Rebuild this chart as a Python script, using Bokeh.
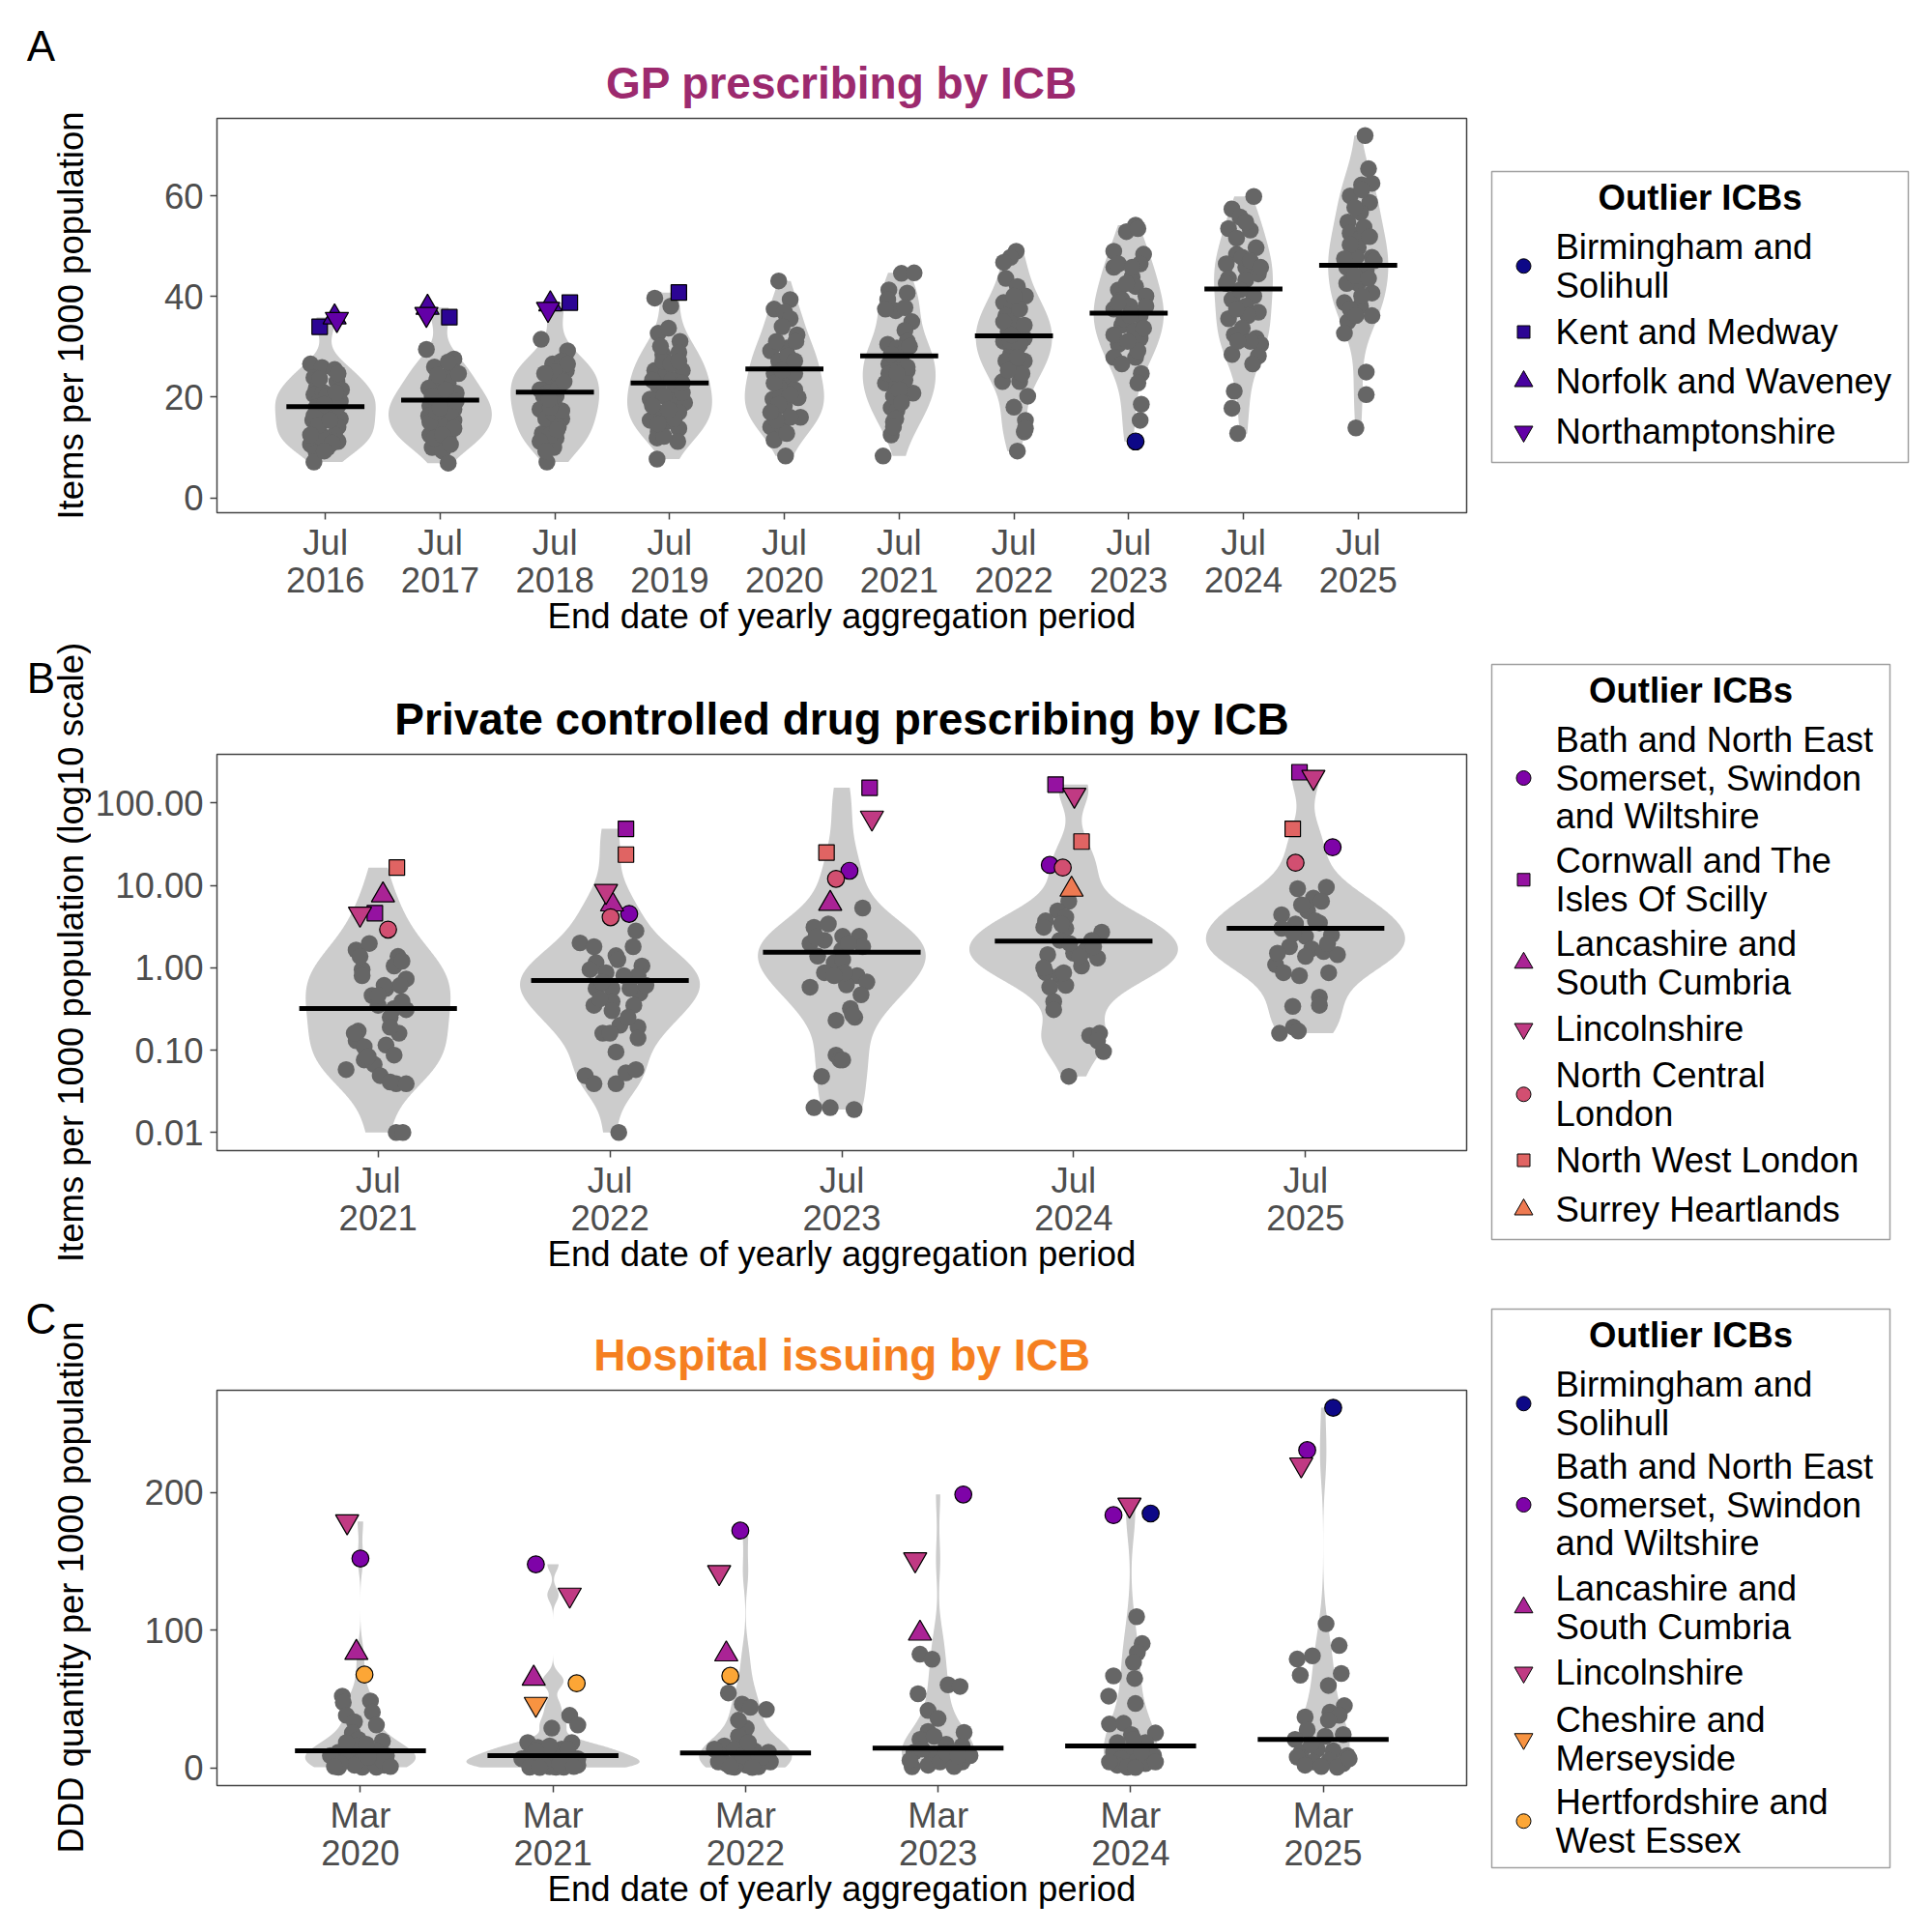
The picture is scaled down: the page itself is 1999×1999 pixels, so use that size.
import numpy as np
from bokeh.plotting import figure
from bokeh.models import Range1d, FixedTicker, PrintfTickFormatter, LinearAxis
from bokeh.layouts import row, column
from bokeh.embed import file_html
from bokeh.resources import INLINE
from bokeh.core.properties import value

# ---------------------------------------------------------------- data: panel A (GP prescribing)
gp_years = ["2016", "2017", "2018", "2019", "2020", "2021", "2022", "2023", "2024", "2025"]
gp_2016 = [26.6, 25.9, 25.5, 23.9, 23.1, 21.8, 21.5, 20.5, 21.0, 19.6, 19.2, 18.9, 18.0, 17.3, 15.7, 15.4, 15.1, 14.1, 13.5, 12.5, 12.2, 10.6, 10.0, 11.2, 9.0, 7.1, 11.9, 10.9, 16.3, 18.3, 14.4, 20.2, 20.9, 9.3, 12.5, 15.4, 23.7, 24.7, 18.6]
gp_2016_jit = [-0.13, -0.03, 0.08, -0.10, 0.10, -0.08, 0.14, -0.10, -0.02, 0.08, 0.13, -0.06, -0.08, 0.01, 0.13, -0.11, -0.03, 0.11, -0.08, 0.08, -0.02, -0.13, 0.02, 0.11, -0.08, -0.10, -0.03, 0.06, -0.10, 0.11, -0.06, 0.01, 0.09, -0.01, -0.13, 0.04, -0.05, 0.11, -0.01]
gp_2017 = [26.0, 27.6, 25.3, 23.4, 22.8, 21.8, 20.8, 20.5, 18.3, 18.6, 17.6, 16.3, 16.0, 15.4, 14.4, 13.5, 12.5, 11.9, 11.2, 10.0, 9.3, 6.9, 29.5, 24.7, 19.6, 17.0, 20.2, 14.7, 13.8, 24.4, 21.5, 11.9, 19.2, 15.1, 12.5, 27.0, 17.0, 10.6, 17.9]
gp_2017_jit = [-0.05, 0.12, 0.10, -0.03, 0.07, -0.10, 0.14, 0.00, -0.09, 0.05, 0.12, -0.10, 0.02, 0.12, -0.05, 0.03, -0.09, 0.07, -0.03, -0.07, 0.02, 0.07, -0.12, 0.16, -0.02, 0.09, -0.07, 0.00, 0.12, -0.02, 0.05, -0.05, 0.14, -0.09, 0.02, 0.07, -0.03, 0.09, 0.00]
gp_2018 = [31.5, 29.2, 27.2, 26.6, 25.3, 24.7, 24.0, 22.8, 21.5, 20.2, 19.2, 18.6, 17.6, 15.7, 14.4, 12.8, 11.9, 10.6, 10.0, 7.1, 26.0, 20.9, 21.8, 15.7, 16.7, 17.3, 20.2, 12.5, 14.1, 11.2, 26.6, 25.0, 18.0, 24.7, 23.1, 19.6, 13.5, 9.3]
gp_2018_jit = [-0.12, 0.11, 0.06, -0.02, 0.10, -0.08, 0.03, -0.04, -0.13, 0.01, -0.08, -0.01, -0.13, 0.06, -0.04, -0.11, 0.01, -0.09, -0.01, -0.07, 0.05, -0.06, 0.03, -0.08, -0.01, 0.06, -0.10, -0.04, 0.03, -0.13, 0.11, 0.00, -0.04, -0.09, 0.08, -0.05, 0.02, -0.08]
gp_2019 = [39.7, 38.1, 32.7, 33.7, 31.1, 28.5, 28.9, 25.3, 24.7, 25.3, 22.1, 21.5, 19.6, 19.2, 18.9, 17.0, 17.0, 15.4, 15.1, 13.1, 13.8, 11.9, 11.2, 7.7, 27.2, 23.4, 20.2, 20.9, 18.3, 15.7, 12.2, 26.6, 30.1, 17.6, 27.2, 23.4, 22.8, 14.7]
gp_2019_jit = [-0.13, 0.01, -0.10, -0.01, 0.09, -0.06, 0.08, -0.13, -0.03, 0.11, -0.10, 0.04, -0.17, 0.01, 0.13, -0.11, 0.08, -0.17, -0.03, -0.10, 0.08, -0.11, 0.07, -0.11, -0.06, 0.02, -0.05, 0.11, -0.15, 0.04, -0.05, 0.01, -0.08, -0.01, 0.08, -0.15, 0.11, -0.10]
gp_2020 = [43.1, 39.4, 37.5, 36.9, 35.6, 32.4, 29.2, 29.8, 31.1, 27.2, 26.3, 24.7, 23.4, 22.1, 21.5, 19.6, 19.9, 18.3, 17.3, 16.0, 14.1, 14.1, 11.5, 8.3, 28.2, 34.0, 31.1, 24.7, 20.2, 16.0, 15.4, 12.8, 20.5, 22.8, 25.3, 27.2, 18.6, 17.0]
gp_2020_jit = [-0.05, 0.05, -0.09, 0.00, 0.05, 0.11, -0.12, 0.02, 0.10, -0.05, 0.07, -0.09, 0.03, -0.05, 0.09, -0.10, 0.12, 0.00, -0.09, 0.14, -0.12, -0.02, -0.09, 0.01, 0.03, -0.02, -0.07, 0.09, -0.03, 0.05, -0.07, 0.02, 0.05, -0.09, -0.02, 0.09, -0.05, -0.12]
gp_2021 = [44.6, 44.7, 41.3, 40.7, 39.4, 37.2, 37.8, 35.0, 33.3, 30.5, 31.1, 29.8, 27.2, 26.6, 25.3, 22.8, 22.4, 20.8, 17.9, 17.3, 15.1, 12.5, 8.3, 23.4, 20.2, 19.6, 24.7, 15.7, 29.2, 30.1, 14.1, 21.5, 37.5, 26.0, 28.5, 18.9, 24.7]
gp_2021_jit = [0.02, 0.13, -0.09, 0.07, -0.10, -0.03, 0.05, 0.11, 0.05, -0.10, 0.07, -0.02, 0.02, -0.09, 0.07, -0.12, -0.02, 0.12, -0.07, -0.02, -0.05, -0.07, -0.14, 0.05, -0.05, 0.02, -0.09, -0.03, 0.05, 0.09, -0.05, 0.00, -0.12, 0.07, -0.07, 0.02, -0.02]
gp_2022 = [49.0, 47.8, 46.8, 43.6, 42.0, 40.1, 38.8, 37.5, 36.2, 34.3, 33.0, 31.7, 31.1, 29.8, 28.5, 27.2, 26.0, 23.1, 23.1, 20.2, 18.0, 15.4, 13.1, 9.3, 35.0, 37.5, 27.2, 24.7, 31.1, 35.0, 40.1, 25.3, 30.5, 32.4, 34.3, 27.9, 13.8]
gp_2022_jit = [0.02, -0.03, -0.09, -0.07, 0.03, 0.10, -0.09, -0.02, -0.07, 0.03, -0.05, 0.09, -0.09, 0.03, -0.03, 0.09, 0.02, -0.10, 0.05, 0.12, 0.00, 0.10, 0.09, 0.03, -0.02, 0.05, -0.07, 0.07, -0.03, -0.09, 0.00, -0.05, 0.05, -0.02, 0.09, 0.03, 0.10]
gp_2023 = [54.2, 52.9, 53.5, 49.0, 48.4, 45.8, 46.5, 43.9, 41.3, 42.0, 39.4, 40.1, 37.5, 36.2, 34.3, 33.3, 30.5, 31.7, 27.9, 27.9, 24.7, 22.8, 18.6, 15.4, 42.6, 38.1, 35.6, 32.4, 29.2, 26.6, 38.1, 46.5, 36.2, 33.7, 31.1, 38.8, 45.8]
gp_2023_jit = [0.06, -0.02, 0.08, -0.13, 0.13, -0.13, 0.10, 0.03, -0.09, 0.06, -0.06, 0.15, -0.13, 0.10, -0.06, 0.05, -0.09, 0.10, -0.13, 0.06, 0.11, 0.08, 0.11, 0.10, -0.02, 0.01, -0.04, -0.13, 0.08, -0.06, 0.15, -0.09, 0.01, 0.13, -0.01, -0.09, 0.03]
gp_2024 = [59.9, 57.4, 55.8, 53.5, 53.2, 49.7, 48.4, 46.5, 45.8, 44.5, 43.6, 43.3, 39.4, 40.1, 38.1, 35.6, 36.9, 32.4, 31.7, 30.5, 28.5, 28.2, 26.6, 21.2, 17.8, 12.8, 47.8, 47.1, 41.3, 36.2, 37.5, 42.6, 33.7, 31.1, 31.1, 45.8, 51.6, 54.8]
gp_2024_jit = [0.09, -0.10, -0.03, -0.13, 0.06, 0.11, -0.06, -0.15, 0.02, 0.13, -0.13, 0.02, -0.10, 0.09, 0.02, -0.13, 0.13, -0.08, 0.11, 0.15, -0.10, 0.13, 0.08, -0.08, -0.10, -0.05, -0.01, 0.06, -0.03, 0.04, -0.06, -0.15, -0.01, 0.06, -0.05, 0.15, -0.06, 0.02]
gp_2025 = [72.0, 65.4, 62.2, 62.5, 60.0, 58.7, 56.7, 54.8, 52.6, 51.6, 49.7, 47.8, 45.8, 45.2, 42.6, 42.6, 40.7, 38.8, 38.1, 36.2, 35.0, 32.7, 25.0, 20.5, 13.9, 61.2, 57.7, 53.8, 47.8, 47.1, 44.2, 40.1, 37.5, 36.2, 43.6, 50.3, 51.9, 47.5]
gp_2025_jit = [0.06, 0.09, 0.03, 0.12, -0.07, 0.10, 0.02, -0.09, -0.07, 0.02, 0.00, 0.12, -0.10, 0.07, 0.00, -0.10, 0.12, -0.12, 0.02, 0.12, -0.09, -0.12, 0.07, 0.07, -0.02, 0.03, -0.03, 0.05, -0.02, 0.14, -0.03, 0.03, -0.07, -0.02, 0.09, -0.07, 0.10, -0.12]
gp_median = [18.1, 19.4, 21.0, 22.8, 25.6, 28.2, 32.2, 36.7, 41.5, 46.2]
gp_out_icb = ["Kent and Medway", "Kent and Medway", "Kent and Medway", "Kent and Medway",
              "Norfolk and Waveney", "Norfolk and Waveney", "Norfolk and Waveney",
              "Northamptonshire", "Northamptonshire", "Northamptonshire",
              "Birmingham and Solihull"]
gp_out_year = ["2016", "2017", "2018", "2019", "2016", "2017", "2018", "2016", "2017", "2018", "2023"]
gp_out_value = [34.0, 35.9, 38.8, 40.8, 35.9, 37.8, 38.5, 35.5, 36.5, 37.5, 11.2]
gp_out_jit = [-0.05, 0.08, 0.13, 0.08, 0.08, -0.11, -0.04, 0.10, -0.12, -0.06, 0.06]

# ---------------------------------------------------------------- data: panel B (private CD prescribing)
pcd_years = ["2021", "2022", "2023", "2024", "2025"]
pcd_2021 = [1.64, 1.97, 0.95, 1.37, 1.05, 0.73, 0.46, 0.56, 0.61, 0.35, 0.32, 0.31, 0.25, 0.17, 0.16, 0.13, 0.11, 0.115, 0.087, 0.076, 0.067, 0.058, 0.049, 0.039, 0.039, 0.01, 0.01, 1.37, 1.2, 0.61, 0.8, 0.16, 0.19, 0.084, 0.041, 0.46, 0.39]
pcd_2021_jit = [-0.095, -0.038, -0.069, 0.086, 0.069, 0.121, -0.026, 0.034, 0.095, 0.0, 0.069, 0.121, 0.052, -0.086, 0.09, -0.095, -0.06, 0.034, 0.069, -0.06, -0.017, -0.138, 0.009, 0.078, 0.121, 0.078, 0.107, -0.078, 0.103, 0.026, -0.069, -0.103, 0.052, -0.043, 0.052, 0.0, 0.103]
pcd_2022 = [2.8, 2.0, 1.8, 1.4, 1.8, 1.15, 1.05, 0.95, 0.87, 0.8, 0.56, 0.56, 0.49, 0.39, 0.35, 0.35, 0.30, 0.20, 0.19, 0.16, 0.14, 0.095, 0.049, 0.039, 0.039, 0.053, 0.058, 0.01, 1.25, 0.8, 0.67, 0.56, 0.42, 0.61, 0.16, 0.25]
pcd_2022_jit = [0.112, -0.129, -0.069, 0.026, 0.1, -0.06, 0.138, -0.086, -0.017, 0.121, 0.009, -0.06, 0.129, 0.009, -0.069, 0.103, 0.009, 0.043, 0.121, -0.031, 0.121, 0.026, -0.107, -0.069, 0.026, 0.069, 0.112, 0.038, 0.034, 0.06, -0.034, 0.086, -0.043, 0.155, 0.0, 0.078]
pcd_2023 = [3.1, 3.4, 1.97, 2.15, 1.38, 1.15, 0.87, 0.58, 0.23, 0.087, 0.076, 0.048, 0.02, 0.02, 1.64, 5.3, 2.4, 2.4, 1.8, 1.25, 0.8, 0.67, 0.62, 0.32, 0.25, 0.076, 0.019, 0.87, 0.27, 2.36, 1.97, 0.8, 0.47]
pcd_2023_jit = [-0.12, -0.058, -0.137, -0.075, -0.104, -0.033, -0.075, -0.137, -0.025, -0.025, -0.008, -0.087, -0.12, -0.05, 0.0, 0.09, 0.004, 0.075, 0.09, 0.004, 0.066, 0.108, 0.02, 0.037, 0.056, 0.004, 0.053, 0.012, 0.046, -0.112, 0.029, -0.033, 0.083]
pcd_2024 = [6.4, 4.9, 3.7, 4.1, 3.1, 3.0, 2.7, 2.15, 1.64, 1.5, 1.31, 1.44, 1.05, 0.87, 0.80, 0.61, 0.58, 0.39, 0.31, 0.15, 0.16, 0.096, 0.048, 2.15, 1.97, 1.37, 1.8, 1.0, 0.87, 0.13, 3.4]
pcd_2024_jit = [-0.021, -0.069, -0.121, -0.034, -0.129, -0.034, 0.121, 0.078, 0.052, 0.0, 0.103, -0.112, 0.034, -0.121, -0.06, -0.034, -0.103, -0.086, -0.086, 0.069, 0.112, 0.129, -0.021, -0.06, -0.017, 0.026, 0.086, -0.129, -0.043, 0.103, -0.052]
pcd_2025 = [9.1, 9.5, 7.0, 6.4, 4.4, 4.9, 3.4, 3.5, 2.5, 3.0, 2.4, 1.8, 1.7, 1.57, 1.44, 1.09, 0.87, 0.8, 0.87, 0.44, 0.35, 0.34, 0.16, 0.19, 0.17, 5.8, 3.7, 2.6, 1.97, 1.37, 1.5]
pcd_2025_jit = [-0.034, 0.09, 0.034, 0.069, -0.103, 0.009, -0.043, 0.06, 0.112, -0.103, 0.0, -0.069, 0.026, 0.078, 0.138, -0.129, -0.095, -0.026, 0.1, 0.06, 0.06, -0.055, -0.112, -0.052, -0.031, -0.017, 0.043, -0.052, 0.095, 0.0, -0.121]
pcd_median = [0.32, 0.70, 1.54, 2.1, 3.0]
pcd_out_icb = ["Bath and North East Somerset, Swindon and Wiltshire"] * 4 + \
              ["Cornwall and The Isles Of Scilly"] * 5 + \
              ["Lancashire and South Cumbria"] * 3 + \
              ["Lincolnshire"] * 5 + \
              ["North Central London"] * 5 + \
              ["North West London"] * 5 + \
              ["Surrey Heartlands"]
pcd_out_year = ["2022", "2023", "2024", "2025",
                "2021", "2022", "2023", "2024", "2025",
                "2021", "2022", "2023",
                "2021", "2022", "2023", "2024", "2025",
                "2021", "2022", "2023", "2024", "2025",
                "2021", "2022", "2023", "2024", "2025",
                "2024"]
pcd_out_value = [4.5, 15, 17.7, 29, 4.6, 48.5, 153, 167, 236, 7.6, 5.9, 6.0, 4.5, 8.5, 66, 125, 206,
                 2.9, 4.1, 12, 16.4, 18.8, 16.4, 23.6, 25, 34, 48.5, 8.9]
pcd_out_jit = [0.083, 0.033, -0.103, 0.117, -0.014, 0.069, 0.12, -0.078, -0.026, 0.021, 0.009, -0.05,
               -0.078, -0.017, 0.13, 0.003, 0.034, 0.043, 0.003, -0.025, -0.047, -0.043,
               0.081, 0.069, -0.066, 0.034, -0.055, -0.009]

# ---------------------------------------------------------------- data: panel C (hospital issuing)
hosp_years = ["2020", "2021", "2022", "2023", "2024", "2025"]
hosp_2020 = [52.2, 47.5, 48.7, 40.5, 38.2, 33.5, 31.2, 25.4, 20.7, 19.5, 11.4, 12.5, 11.4, 12.5, 9.0, 6.7, 5.5, 4.4, 3.2, 2.0, 0.5, 0.5, 0.5, 2.0, 5.5, 9.0, 7.9, 16.0, 3.2, 1.0, 17.2, 18.4, 1.0]
hosp_2020_jit = [-0.094, -0.089, 0.052, 0.062, -0.073, -0.031, 0.083, -0.042, -0.01, 0.114, -0.114, -0.052, 0.021, 0.083, 0.135, -0.135, -0.073, 0.0, 0.073, 0.125, -0.114, 0.01, 0.083, -0.031, 0.114, -0.156, 0.042, -0.021, -0.104, 0.156, 0.031, -0.073, -0.135]
hosp_2021 = [38.2, 31.2, 28.9, 18.4, 14.9, 13.7, 18.4, 11.4, 9.0, 7.9, 6.7, 3.2, 0.9, 4.4, 5.5, 6.7, 2.0, 0.5, 0.5, 2.0, 0.5, 9.0, 16.0, 12.5, 13.7, 0.3, 3.2, 1.0]
hosp_2021_jit = [0.087, 0.129, -0.006, -0.131, -0.079, 0.046, 0.098, -0.037, -0.121, 0.025, 0.129, -0.1, -0.017, 0.067, -0.058, -0.162, 0.129, 0.015, -0.121, -0.048, 0.056, 0.087, -0.017, -0.089, 0.077, -0.069, 0.035, 0.108]
hosp_2022 = [54.5, 46.4, 44.0, 42.4, 28.9, 23.0, 16.0, 13.7, 12.5, 11.4, 9.0, 6.7, 5.5, 3.2, 2.0, 0.5, 0.9, 4.4, 4.4, 9.0, 18.4, 1.0, 7.9, 13.7, 0.3, 34.7]
hosp_2022_jit = [-0.089, -0.017, 0.025, 0.108, 0.004, -0.037, -0.11, -0.058, 0.046, 0.119, -0.131, -0.037, 0.056, -0.1, 0.004, -0.058, 0.067, 0.129, -0.141, -0.017, 0.015, -0.079, 0.087, -0.162, 0.035, -0.037]
hosp_2023 = [82.6, 79.0, 60.4, 59.2, 53.9, 41.7, 35.9, 25.8, 26.5, 20.7, 17.2, 16.0, 11.4, 9.0, 6.7, 0.9, 2.0, 4.4, 4.4, 9.0, 5.5, 1.0, 23.0, 11.4, 13.7, 9.0]
hosp_2023_jit = [-0.094, -0.031, 0.052, 0.114, -0.104, -0.052, 0.0, 0.135, -0.052, -0.094, 0.042, 0.125, -0.125, -0.031, 0.062, -0.135, -0.052, 0.01, 0.125, 0.166, -0.146, 0.083, -0.021, 0.042, -0.083, 0.104]
hosp_2024 = [109.9, 90.3, 83.7, 76.7, 66.9, 65.0, 52.2, 46.8, 31.9, 32.4, 24.2, 25.4, 18.4, 18.4, 11.4, 12.5, 9.0, 6.7, 5.5, 2.0, 0.5, 3.2, 4.4, 4.4, 0.3, 11.4, 20.7]
hosp_2024_jit = [0.031, 0.06, 0.035, 0.015, -0.089, 0.021, -0.114, 0.025, -0.11, -0.037, 0.004, 0.129, -0.069, 0.077, -0.089, -0.006, 0.119, -0.048, 0.035, -0.069, -0.017, 0.077, 0.129, -0.11, 0.025, 0.056, 0.015]
hosp_2025 = [104.7, 88.9, 81.4, 79.1, 67.4, 68.6, 59.9, 45.2, 40.5, 37.0, 38.2, 34.7, 27.7, 24.2, 20.7, 23.0, 11.4, 13.7, 12.5, 9.0, 7.9, 4.4, 5.5, 3.2, 2.0, 0.5, 1.0, 6.7, 17.2]
hosp_2025_jit = [0.015, 0.083, -0.056, -0.135, -0.119, 0.094, 0.027, 0.11, 0.035, -0.094, 0.083, 0.027, -0.083, 0.104, -0.146, 0.01, -0.114, -0.031, 0.052, 0.125, -0.135, -0.052, 0.031, 0.104, -0.094, 0.073, -0.01, 0.135, -0.062]
hosp_median = [12.5, 9.0, 10.9, 14.4, 16.0, 20.7]
hosp_out_icb = ["Birmingham and Solihull"] * 2 + \
               ["Bath and North East Somerset, Swindon and Wiltshire"] * 6 + \
               ["Lancashire and South Cumbria"] * 4 + \
               ["Lincolnshire"] * 6 + \
               ["Cheshire and Merseyside"] + \
               ["Hertfordshire and West Essex"] * 3
hosp_out_year = ["2024", "2025",
                 "2020", "2021", "2022", "2023", "2024", "2025",
                 "2020", "2021", "2022", "2023",
                 "2020", "2021", "2022", "2023", "2024", "2025",
                 "2021",
                 "2020", "2021", "2022"]
hosp_out_value = [184.8, 261.6, 152.1, 147.9, 172.4, 198.6, 183.6, 230.8, 83.7, 65.0, 82.6, 97.7,
                  179.0, 125.7, 142.1, 151.4, 191.1, 220.3, 46.4, 67.8, 61.5, 66.9]
hosp_out_jit = [0.104, 0.052, 0.0, -0.089, -0.027, 0.131, -0.089, -0.083, -0.021, -0.1, -0.1, -0.094,
                -0.069, 0.087, -0.137, -0.119, -0.006, -0.114, -0.089, 0.021, 0.123, -0.079]

# ---------------------------------------------------------------- styles / layout constants
FONT = "Liberation Sans"
TXT = "36.5px"
ICB_COLOURS = {
    "Birmingham and Solihull": "#0D0887",
    "Kent and Medway": "#2C0594",
    "Norfolk and Waveney": "#4903A0",
    "Northamptonshire": "#6300A7",
    "Bath and North East Somerset, Swindon and Wiltshire": "#7E03A8",
    "Cornwall and The Isles Of Scilly": "#9512A1",
    "Lancashire and South Cumbria": "#AA2395",
    "Lincolnshire": "#C03A83",
    "North Central London": "#D24F71",
    "North West London": "#E06463",
    "Surrey Heartlands": "#EE7A52",
    "Cheshire and Merseyside": "#F89341",
    "Hertfordshire and West Essex": "#FCA636",
}
MARKER_SIZE = {"circle": 17.5, "square": 16, "triangle": 24, "inverted_triangle": 24}
LEG_MARKER_SIZE = {"circle": 15, "square": 13, "triangle": 19, "inverted_triangle": 19}
LEFT_W, MAIN_W, LEG_W, TOTAL_H = 94, 1436, 469, 1999


def kde(v, grid):
    v = np.asarray(v, float)
    n = len(v)
    sd = np.std(v, ddof=1)
    q75, q25 = np.percentile(v, [75, 25])
    lo = min(sd, (q75 - q25) / 1.34) if q75 > q25 else sd
    bw = 0.9 * lo * n ** -0.2
    z = (grid[:, None] - v[None, :]) / bw
    return np.exp(-0.5 * z * z).sum(axis=1) / (n * bw * np.sqrt(2 * np.pi))


def style_axis(ax):
    ax.axis_line_color = None
    ax.major_tick_line_color = "#444444"
    ax.major_tick_line_width = 1.5
    ax.major_tick_out = 7
    ax.major_tick_in = 0
    ax.minor_tick_line_color = None
    ax.major_label_text_font = FONT
    ax.major_label_text_font_size = TXT
    ax.major_label_text_color = "#4D4D4D"
    ax.axis_label_text_font = FONT
    ax.axis_label_text_font_size = TXT
    ax.axis_label_text_font_style = "normal"
    ax.axis_label_text_color = "black"


def build_panel(cfg):
    years = cfg["years"]
    n = len(years)
    log = cfg["log"]
    p = figure(width=MAIN_W, height=cfg["height"],
               x_range=Range1d(*cfg["xr"]), y_range=Range1d(*cfg["yr"]),
               y_axis_type="log" if log else "linear",
               output_backend="svg", toolbar_location=None,
               min_border_left=224 - LEFT_W, min_border_right=13,
               min_border_top=cfg["top"], min_border_bottom=cfg["bottom"])
    p.title.text = cfg["title"]
    p.title.align = "center"
    p.title.text_font = FONT
    p.title.text_font_size = "46px"
    p.title.text_font_style = "bold"
    p.title.text_color = cfg["title_color"]
    p.title.standoff = 22

    allvals = [list(g) for g in cfg["groups"]]
    for yr, v in zip(cfg["out_year"], cfg["out_value"]):
        allvals[years.index(yr)].append(v)
    dens = []
    for g in allvals:
        v = np.log10(g) if log else np.asarray(g, float)
        grid = np.linspace(v.min(), v.max(), 512)
        dens.append((grid, kde(v, grid)))
    dmax = max(d.max() for _, d in dens)
    xs, ys = [], []
    for i, (grid, d) in enumerate(dens):
        hw = d / dmax * 0.45
        yy = 10 ** grid if log else grid
        xs.append(np.concatenate([i - hw, (i + hw)[::-1]]))
        ys.append(np.concatenate([yy, yy[::-1]]))
    p.patches(xs, ys, fill_color="#CCCCCC", line_color=None)

    px, py = [], []
    for i, (g, j) in enumerate(zip(cfg["groups"], cfg["jits"])):
        for v, o in zip(g, j):
            px.append(i + o)
            py.append(v)
    p.scatter(px, py, size=17.5, fill_color="#666666", line_color=None)

    p.segment(x0=[i - 0.34 for i in range(n)], x1=[i + 0.34 for i in range(n)],
              y0=cfg["median"], y1=cfg["median"], line_color="black", line_width=5)

    for name, mk, _lines in cfg["legend"]:
        ox = [years.index(yr) + o for icb, yr, o in zip(cfg["out_icb"], cfg["out_year"], cfg["out_jit"]) if icb == name]
        oy = [v for icb, v in zip(cfg["out_icb"], cfg["out_value"]) if icb == name]
        if ox:
            p.scatter(ox, oy, marker=mk, size=MARKER_SIZE[mk], fill_color=ICB_COLOURS[name],
                      line_color="black", line_width=1.2)

    p.grid.visible = False
    p.outline_line_color = "#444444"
    p.outline_line_width = 1.5

    ticker = FixedTicker(ticks=list(range(n)))
    p.xaxis.ticker = ticker
    p.xaxis.major_label_overrides = {i: cfg["month"] for i in range(n)}
    p.xaxis.major_label_standoff = 3
    style_axis(p.xaxis[0])
    ax2 = LinearAxis(ticker=ticker, major_label_overrides={i: y for i, y in enumerate(years)},
                     axis_label="End date of yearly aggregation period")
    style_axis(ax2)
    ax2.major_tick_line_color = None
    ax2.major_tick_out = 0
    ax2.major_label_standoff = 2
    ax2.axis_label_standoff = 1
    p.add_layout(ax2, "below")

    p.yaxis.ticker = FixedTicker(ticks=cfg["yticks"])
    if log:
        p.yaxis.formatter = PrintfTickFormatter(format="%.2f")
    style_axis(p.yaxis[0])
    p.yaxis.major_label_standoff = 7
    return p


cfg_a = dict(
    years=gp_years, month="Jul", log=False,
    groups=[gp_2016, gp_2017, gp_2018, gp_2019, gp_2020, gp_2021, gp_2022, gp_2023, gp_2024, gp_2025],
    jits=[gp_2016_jit, gp_2017_jit, gp_2018_jit, gp_2019_jit, gp_2020_jit, gp_2021_jit, gp_2022_jit,
          gp_2023_jit, gp_2024_jit, gp_2025_jit],
    median=gp_median, out_icb=gp_out_icb, out_year=gp_out_year, out_value=gp_out_value, out_jit=gp_out_jit,
    legend=[("Birmingham and Solihull", "circle", ["Birmingham and", "Solihull"]),
            ("Kent and Medway", "square", ["Kent and Medway"]),
            ("Norfolk and Waveney", "triangle", ["Norfolk and Waveney"]),
            ("Northamptonshire", "inverted_triangle", ["Northamptonshire"])],
    title="GP prescribing by ICB", title_color="#9C2A6E",
    ylabel="Items per 1000 population", yticks=[0, 20, 40, 60],
    xr=(-0.945, 9.945), yr=(-2.96, 75.4), height=666, top=122, bottom=136,
    letter="A", letter_y=47, ylabel_y=326,
    leg_box=(177, 478), leg_title_y=204, leg_y=[255, 343, 394, 446], leg_right=444,
)
cfg_b = dict(
    years=pcd_years, month="Jul", log=True,
    groups=[pcd_2021, pcd_2022, pcd_2023, pcd_2024, pcd_2025],
    jits=[pcd_2021_jit, pcd_2022_jit, pcd_2023_jit, pcd_2024_jit, pcd_2025_jit],
    median=pcd_median, out_icb=pcd_out_icb, out_year=pcd_out_year, out_value=pcd_out_value, out_jit=pcd_out_jit,
    legend=[("Bath and North East Somerset, Swindon and Wiltshire", "circle",
             ["Bath and North East", "Somerset, Swindon", "and Wiltshire"]),
            ("Cornwall and The Isles Of Scilly", "square", ["Cornwall and The", "Isles Of Scilly"]),
            ("Lancashire and South Cumbria", "triangle", ["Lancashire and", "South Cumbria"]),
            ("Lincolnshire", "inverted_triangle", ["Lincolnshire"]),
            ("North Central London", "circle", ["North Central", "London"]),
            ("North West London", "square", ["North West London"]),
            ("Surrey Heartlands", "triangle", ["Surrey Heartlands"])],
    title="Private controlled drug prescribing by ICB", title_color="black",
    ylabel="Items per 1000 population (log10 scale)", yticks=[0.01, 0.1, 1, 10, 100],
    xr=(-0.695, 4.695), yr=(10 ** -2.22, 10 ** 2.59), height=660, top=114, bottom=136,
    letter="B", letter_y=701, ylabel_y=985,
    leg_box=(687, 1282), leg_title_y=714, leg_y=[765, 890, 976, 1064, 1112, 1200, 1251], leg_right=425,
)
cfg_c = dict(
    years=hosp_years, month="Mar", log=False,
    groups=[hosp_2020, hosp_2021, hosp_2022, hosp_2023, hosp_2024, hosp_2025],
    jits=[hosp_2020_jit, hosp_2021_jit, hosp_2022_jit, hosp_2023_jit, hosp_2024_jit, hosp_2025_jit],
    median=hosp_median, out_icb=hosp_out_icb, out_year=hosp_out_year, out_value=hosp_out_value, out_jit=hosp_out_jit,
    legend=[("Birmingham and Solihull", "circle", ["Birmingham and", "Solihull"]),
            ("Bath and North East Somerset, Swindon and Wiltshire", "circle",
             ["Bath and North East", "Somerset, Swindon", "and Wiltshire"]),
            ("Lancashire and South Cumbria", "triangle", ["Lancashire and", "South Cumbria"]),
            ("Lincolnshire", "inverted_triangle", ["Lincolnshire"]),
            ("Cheshire and Merseyside", "inverted_triangle", ["Cheshire and", "Merseyside"]),
            ("Hertfordshire and West Essex", "circle", ["Hertfordshire and", "West Essex"])],
    title="Hospital issuing by ICB", title_color="#F57F20",
    ylabel="DDD quantity per 1000 population", yticks=[0, 100, 200],
    xr=(-0.745, 5.745), yr=(-12.8, 274.3), height=673, top=112, bottom=152,
    letter="C", letter_y=1364, ylabel_y=1642,
    leg_box=(1354, 1932), leg_title_y=1381, leg_y=[1432, 1517, 1643, 1730, 1779, 1864], leg_right=425,
)
cfgs = (cfg_a, cfg_b, cfg_c)

# ---------------------------------------------------------------- left strip: panel letters and y-axis titles
left = figure(width=LEFT_W, height=TOTAL_H, x_range=Range1d(0, LEFT_W), y_range=Range1d(TOTAL_H, 0),
              x_axis_location=None, y_axis_location=None, output_backend="svg",
              toolbar_location=None, min_border=0, frame_align=False)
left.grid.visible = False
left.outline_line_color = None
left.text(x=[42] * 3, y=[c["letter_y"] for c in cfgs], text=[c["letter"] for c in cfgs],
          text_font=value(FONT), text_font_size=value("44px"), text_align="center",
          text_baseline="middle", text_color="black")
left.text(x=[73] * 3, y=[c["ylabel_y"] for c in cfgs], text=[c["ylabel"] for c in cfgs],
          angle=np.pi / 2, text_font=value(FONT), text_font_size=value(TXT), text_align="center",
          text_baseline="middle", text_color="black")

# ---------------------------------------------------------------- right strip: legends
leg = figure(width=LEG_W, height=TOTAL_H, x_range=Range1d(0, LEG_W), y_range=Range1d(TOTAL_H, 0),
             x_axis_location=None, y_axis_location=None, output_backend="svg",
             toolbar_location=None, min_border=0, frame_align=False)
leg.grid.visible = False
leg.outline_line_color = None
for cfg in cfgs:
    bt, bb = cfg["leg_box"]
    br = cfg["leg_right"]
    leg.quad(left=[13], right=[br], top=[bt], bottom=[bb], fill_color=None,
             line_color="#A0A0A0", line_width=1.5)
    leg.text(x=[(13 + br) / 2], y=[cfg["leg_title_y"]], text=["Outlier ICBs"],
             text_font=value(FONT), text_font_size=value(TXT), text_font_style="bold",
             text_align="center", text_baseline="middle", text_color="black")
    tx, ty, tt = [], [], []
    for (name, mk, lines), y_start in zip(cfg["legend"], cfg["leg_y"]):
        lys = [y_start + 39.5 * k for k in range(len(lines))]
        for yy, t in zip(lys, lines):
            tx.append(79)
            ty.append(yy)
            tt.append(t)
        leg.scatter([46], [sum(lys) / len(lys)], marker=mk, size=LEG_MARKER_SIZE[mk],
                    fill_color=ICB_COLOURS[name], line_color="black", line_width=1)
    leg.text(x=tx, y=ty, text=tt, text_font=value(FONT), text_font_size=value(TXT),
             text_align="left", text_baseline="middle", text_color="black")

mains = column(*[build_panel(c) for c in cfgs], spacing=0)
page = row(left, mains, leg, spacing=0)

open("out.html", "w").write(file_html(page, INLINE))
